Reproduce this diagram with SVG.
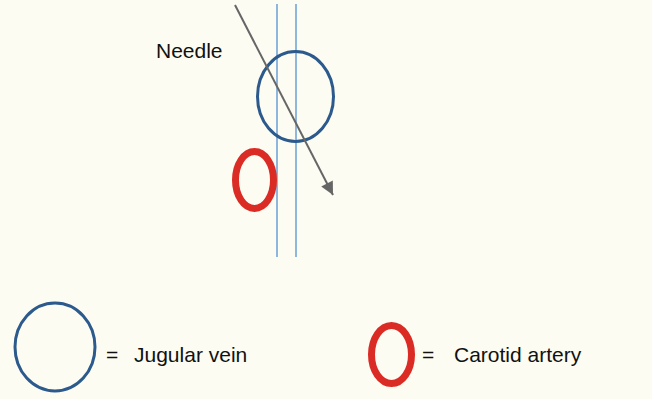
<svg xmlns="http://www.w3.org/2000/svg" width="652" height="399" viewBox="0 0 652 399">
<style>
.vein{fill:none;stroke:#2c5a8c;stroke-width:3}
.artery{fill:none;stroke:#db2b25;stroke-width:7}
.guide{stroke:#8fb6dc;stroke-width:2}
.lbl{font-family:"Liberation Sans",Arial,sans-serif;font-size:21px;fill:#111}
</style>
<defs>
<marker id="ah" viewBox="0 0 10 10" refX="10" refY="5" markerWidth="15" markerHeight="13" markerUnits="userSpaceOnUse" orient="auto">
<path d="M0,0 L10,5 L0,10 z" fill="#666"/>
</marker>
</defs>
<rect width="652" height="399" fill="#fcfcf3"/>
<g id="guides">
<line class="guide" x1="277" y1="4" x2="277" y2="257"/>
<line class="guide" x1="296" y1="4" x2="296" y2="257"/>
</g>
<g id="jugular-vein"><ellipse class="vein" cx="295.5" cy="96.5" rx="38" ry="45"/></g>
<g id="carotid-artery"><ellipse class="artery" cx="254.5" cy="180" rx="19" ry="28.5"/></g>
<g id="needle-label"><text class="lbl" x="156" y="58">Needle</text></g>
<g id="connectors">
<line x1="235" y1="5" x2="333" y2="195" stroke="#666" stroke-width="2" marker-end="url(#ah)"/>
</g>
<g id="legend-vein">
<ellipse class="vein" cx="55" cy="347" rx="40" ry="44"/>
<text class="lbl" x="106" y="362">=</text>
<text class="lbl" x="134" y="362">Jugular vein</text>
</g>
<g id="legend-artery">
<ellipse class="artery" cx="391.5" cy="354.5" rx="20" ry="29"/>
<text class="lbl" x="422" y="362">=</text>
<text class="lbl" x="454" y="362">Carotid artery</text>
</g>
</svg>
